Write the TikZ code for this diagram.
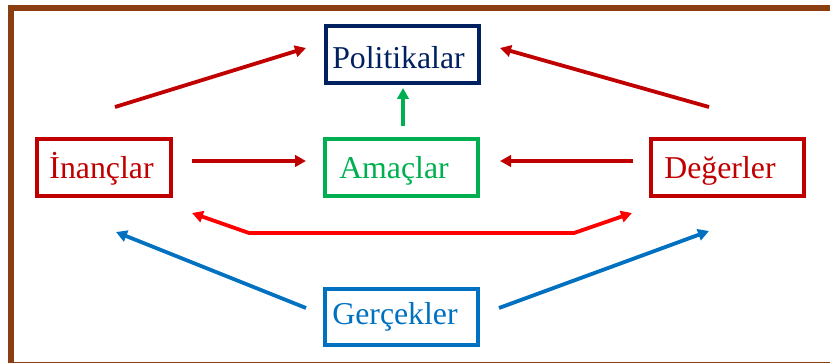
\documentclass[tikz,border=0pt]{standalone}
\usepackage{fontspec}
\setmainfont{Liberation Serif}
\usetikzlibrary{arrows.meta}
\definecolor{brownb}{RGB}{139,62,16}
\definecolor{navyb}{RGB}{0,32,96}
\definecolor{darkredb}{RGB}{192,0,0}
\definecolor{greenb}{RGB}{0,176,80}
\definecolor{blueb}{RGB}{0,112,192}
\definecolor{redb}{RGB}{255,0,0}
\begin{document}
\begin{tikzpicture}[x=1pt,y=-1pt,
  box/.style={draw, line width=4pt, inner sep=0pt, minimum width=153pt, minimum height=57pt,
    font=\fontsize{31.8}{32}\selectfont, text depth=0pt},
  arr/.style={line width=3.8pt, -{Triangle[length=11pt,width=11.5pt]}},
  darr/.style={line width=3.8pt, {Triangle[length=11pt,width=11.5pt]}-{Triangle[length=11pt,width=11.5pt]}},
]
\useasboundingbox (0,0) rectangle (830,363);
\begin{scope}
  \clip (0,0) rectangle (830,363);
  \draw[brownb, line width=6pt] (11,8.3) rectangle (850,365.2);
\end{scope}

% nodes
\node[box, draw=navyb, text=navyb, text height=27.6pt] (pol) at (402,54.5) {Politikalar\kern7pt};
\node[box, draw=greenb, text=greenb, text height=21.6pt] (ama) at (401.5,167.5) {Amaçlar\kern15pt};
\node[box, draw=darkredb, text=darkredb, text height=21.6pt, minimum width=134pt] (inan) at (104,167.5) {İnançlar\kern5pt};
\node[box, draw=darkredb, text=darkredb, text height=21.6pt] (deg) at (727.5,167.5) {Değerler\kern15pt};
\node[box, draw=blueb, text=blueb, text height=14.6pt, minimum height=56pt] (ger) at (401.5,317) {Gerçekler\kern13pt};

% connector end points
\coordinate (a1s) at (115,107);  \coordinate (a1e) at (306,48);
\coordinate (a2s) at (709,107);  \coordinate (a2e) at (500,48);
\coordinate (gs)  at (403,126);  \coordinate (ge)  at (403,88);
\coordinate (a3s) at (192,161);  \coordinate (a3e) at (306,161);
\coordinate (a4s) at (633,161);  \coordinate (a4e) at (500,161);
\coordinate (rs)  at (192,213);  \coordinate (r1)  at (249,233);
\coordinate (r2)  at (574,233);  \coordinate (re)  at (632,213);
\coordinate (b1s) at (306,308);  \coordinate (b1e) at (116,232);
\coordinate (b2s) at (499,308);  \coordinate (b2e) at (709,231);

% connectors
\draw[arr, darkredb] (a1s) -- (a1e);
\draw[arr, darkredb] (a2s) -- (a2e);
\draw[arr, greenb] (gs) -- (ge);
\draw[arr, darkredb] (a3s) -- (a3e);
\draw[arr, darkredb] (a4s) -- (a4e);
\draw[darr, redb] (rs) -- (r1) -- (r2) -- (re);
\draw[arr, blueb] (b1s) -- (b1e);
\draw[arr, blueb] (b2s) -- (b2e);
\end{tikzpicture}
\end{document}
